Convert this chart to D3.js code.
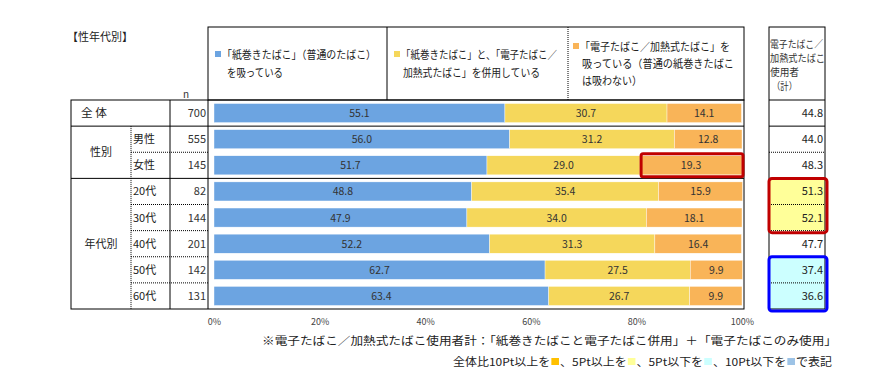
<!DOCTYPE html>
<html>
<head>
<meta charset="utf-8">
<script src="https://cdn.jsdelivr.net/npm/d3@7"></script>
<style>
  body { margin: 0; background: #fff; }
  text { font-family: "Noto Sans CJK JP", sans-serif; }
</style>
</head>
<body>
<div id="chart"></div>
<script>
// Rows
const groups = ['全 体', '性別', '性別', '年代別', '年代別', '年代別', '年代別', '年代別'];
const subLabels = ['', '男性', '女性', '20代', '30代', '40代', '50代', '60代'];
const nValues = [700, 555, 145, 82, 144, 201, 142, 131];

// Series (%)
const cigOnly = [55.1, 56.0, 51.7, 48.8, 47.9, 52.2, 62.7, 63.4];
const dualUse = [30.7, 31.2, 29.0, 35.4, 34.0, 31.3, 27.5, 26.7];
const ecigOnly = [14.1, 12.8, 19.3, 15.9, 18.1, 16.4, 9.9, 9.9];
const ecigTotal = [44.8, 44.0, 48.3, 51.3, 52.1, 47.7, 37.4, 36.6];

const seriesNames = [
  ['「紙巻きたばこ」（普通のたばこ）', 'を吸っている'],
  ['「紙巻きたばこ」と、「電子たばこ／', '加熱式たばこ」を併用している'],
  ['「電子たばこ／加熱式たばこ」を', '吸っている（普通の紙巻きたばこ', 'は吸わない）']
];
const colors = ['#6CA4E1', '#F5D75B', '#F9B458'];
const xTicks = [0, 20, 40, 60, 80, 100];

const W = 892, H = 385;
const svg = d3.select('#chart').append('svg')
  .attr('width', W)
  .attr('height', H);

// squeeze a text element to a given width (the original font is narrower)
function fit(sel, w) {
  return sel.attr('textLength', w).attr('lengthAdjust', 'spacingAndGlyphs');
}

const x = d3.scaleLinear().domain([0, 100]).range([214, 742]);
const y = d3.scaleBand()
  .domain(d3.range(nValues.length))
  .range([100, 309])
  .paddingInner(0.27)
  .paddingOuter(0.135);
const rowStep = y.step();
const rowTop = i => 100 + i * rowStep;

const stacked = d3.stack().keys([0, 1, 2])(
  d3.range(nValues.length).map(i => [cigOnly[i], dualUse[i], ecigOnly[i]])
);

// Title
fit(svg.append('text')
  .attr('x', 67).attr('y', 41)
  .attr('font-size', 11)
  .attr('fill', '#222')
  .text('【性年代別】'), 66);

svg.append('text')
  .attr('x', 186).attr('y', 98)
  .attr('font-size', 10)
  .attr('text-anchor', 'middle')
  .attr('fill', '#333')
  .text('n');

// Header box with legend
const hdr = svg.append('g');
hdr.append('rect')
  .attr('x', 208).attr('y', 27)
  .attr('width', 536).attr('height', 73)
  .attr('fill', 'none').attr('stroke', '#000');
hdr.append('line')
  .attr('x1', 387).attr('x2', 387).attr('y1', 27).attr('y2', 100)
  .attr('stroke', '#000');
hdr.append('line')
  .attr('x1', 568).attr('x2', 568).attr('y1', 27).attr('y2', 100)
  .attr('stroke', '#000').attr('stroke-dasharray', '1,1');

const legendPos = [
  {x: 215, y: 59, dy: 18, w: [154, 56]},
  {x: 394, y: 59, dy: 18, w: [156, 137]},
  {x: 573, y: 51, dy: 17, w: [150, 152, 60]}
];
seriesNames.forEach((lines, k) => {
  const p = legendPos[k];
  hdr.append('rect')
    .attr('x', p.x).attr('y', p.y - 8)
    .attr('width', 6).attr('height', 6)
    .attr('fill', colors[k]);
  lines.forEach((t, j) => {
    fit(hdr.append('text')
      .attr('x', p.x + 7 + (j > 0 ? (k === 0 ? 5 : 2) : 0))
      .attr('y', p.y + j * p.dy)
      .attr('font-size', 11)
      .attr('fill', '#222')
      .text(t), p.w[j]);
  });
});

// Left table
const tbl = svg.append('g').attr('stroke', '#000').attr('fill', 'none');
tbl.append('rect')
  .attr('x', 71).attr('y', 100)
  .attr('width', 673).attr('height', 209);
// group separators
[1, 3].forEach(i => {
  tbl.append('line')
    .attr('x1', 71).attr('x2', 744)
    .attr('y1', rowTop(i)).attr('y2', rowTop(i));
});
// sub-row dotted lines
[2, 4, 5, 6, 7].forEach(i => {
  tbl.append('line')
    .attr('x1', 131).attr('x2', 208)
    .attr('y1', rowTop(i)).attr('y2', rowTop(i))
    .attr('stroke-dasharray', '1,1');
});
tbl.append('line')
  .attr('x1', 131).attr('x2', 131)
  .attr('y1', rowTop(1)).attr('y2', 309)
  .attr('stroke-dasharray', '1,1');
tbl.append('line')
  .attr('x1', 170).attr('x2', 170).attr('y1', 100).attr('y2', 309);
tbl.append('line')
  .attr('x1', 208).attr('x2', 208).attr('y1', 100).attr('y2', 309);

// Row labels
fit(svg.append('text')
  .attr('x', 81).attr('y', rowTop(0) + rowStep / 2 + 4)
  .attr('font-size', 11)
  .attr('fill', '#222')
  .text(groups[0]), 26);
const groupSpans = [['性別', 1, 3], ['年代別', 3, 8]];
groupSpans.forEach(([g, a, b]) => {
  svg.append('text')
    .attr('x', 101)
    .attr('y', (rowTop(a) + rowTop(b)) / 2 + 4)
    .attr('text-anchor', 'middle')
    .attr('font-size', 11)
    .attr('fill', '#222')
    .text(g);
});
subLabels.forEach((s, i) => {
  if (!s) return;
  svg.append('text')
    .attr('x', 133).attr('y', rowTop(i) + rowStep / 2 + 4)
    .attr('font-size', 11)
    .attr('fill', '#222')
    .text(s);
});
nValues.forEach((n, i) => {
  svg.append('text')
    .attr('x', 206).attr('y', rowTop(i) + rowStep / 2 + 4)
    .attr('text-anchor', 'end')
    .attr('font-size', 11)
    .attr('fill', '#333')
    .text(n);
});

// Bars
const bars = svg.append('g');
stacked.forEach((layer, k) => {
  bars.selectAll(null)
    .data(layer)
    .enter()
    .append('rect')
    .attr('x', d => x(d[0]))
    .attr('y', (d, i) => y(i))
    .attr('width', d => x(d[1]) - x(d[0]))
    .attr('height', y.bandwidth())
    .attr('fill', colors[k])
    .attr('stroke', '#fff')
    .attr('stroke-width', 0.4);
  bars.selectAll(null)
    .data(layer)
    .enter()
    .append('text')
    .attr('x', d => (x(d[0]) + x(d[1])) / 2)
    .attr('y', (d, i) => y(i) + y.bandwidth() / 2 + 4)
    .attr('text-anchor', 'middle')
    .attr('font-size', 10.5)
    .attr('fill', '#333')
    .text(d => (d[1] - d[0]).toFixed(1));
});

// Highlight on 女性 e-cig only
const hl = 2;
svg.append('rect')
  .attr('x', x(cigOnly[hl] + dualUse[hl]) + 1)
  .attr('y', y(hl) - 2)
  .attr('width', x(100) - x(cigOnly[hl] + dualUse[hl]))
  .attr('height', y.bandwidth() + 4)
  .attr('rx', 2)
  .attr('fill', 'none')
  .attr('stroke', '#C00000')
  .attr('stroke-width', 3);

// x axis
const xAxis = d3.axisBottom(x)
  .tickValues(xTicks)
  .tickSize(0)
  .tickFormat(d => d + '%');
svg.append('g')
  .attr('transform', 'translate(0,316)')
  .call(xAxis)
  .call(g => g.select('.domain').remove())
  .call(g => g.selectAll('text')
    .attr('font-size', 9)
    .attr('fill', '#444')
    .attr('font-family', '"Noto Sans CJK JP", sans-serif'));

// Right table: e-cig total
const rt = svg.append('g');
const rx0 = 769, rx1 = 825;
// highlight fills
rt.append('rect')
  .attr('x', rx0).attr('y', rowTop(3))
  .attr('width', rx1 - rx0).attr('height', rowStep * 2)
  .attr('fill', '#FFFF99');
rt.append('rect')
  .attr('x', rx0).attr('y', rowTop(6))
  .attr('width', rx1 - rx0).attr('height', rowStep * 2)
  .attr('fill', '#CCFFFF');
rt.append('rect')
  .attr('x', rx0).attr('y', 27)
  .attr('width', rx1 - rx0).attr('height', 282)
  .attr('fill', 'none').attr('stroke', '#000');
[0, 1, 3].forEach(i => {
  rt.append('line')
    .attr('x1', rx0).attr('x2', rx1)
    .attr('y1', rowTop(i)).attr('y2', rowTop(i))
    .attr('stroke', '#000');
});
[2, 4, 5, 6, 7].forEach(i => {
  rt.append('line')
    .attr('x1', rx0).attr('x2', rx1)
    .attr('y1', rowTop(i)).attr('y2', rowTop(i))
    .attr('stroke', '#000').attr('stroke-dasharray', '1,1');
});
const rtHead = [['電子たばこ／', 770, 53], ['加熱式たばこ', 770, 55], ['使用者', 770, 29], ['（計）', 772, 25]];
rtHead.forEach(([t, tx, tw], j) => {
  fit(rt.append('text')
    .attr('x', tx)
    .attr('y', 48 + j * 14)
    .attr('font-size', 10)
    .attr('fill', '#333')
    .text(t), tw);
});
ecigTotal.forEach((v, i) => {
  rt.append('text')
    .attr('x', 823).attr('y', rowTop(i) + rowStep / 2 + 4)
    .attr('text-anchor', 'end')
    .attr('font-size', 11)
    .attr('fill', '#222')
    .text(v.toFixed(1));
});
rt.append('rect')
  .attr('x', rx0).attr('y', rowTop(3))
  .attr('width', rx1 - rx0 + 2).attr('height', rowStep * 2 + 2)
  .attr('rx', 3)
  .attr('fill', 'none').attr('stroke', '#C00000').attr('stroke-width', 3);
rt.append('rect')
  .attr('x', rx0).attr('y', rowTop(6))
  .attr('width', rx1 - rx0 + 2).attr('height', rowStep * 2 + 2)
  .attr('rx', 3)
  .attr('fill', 'none').attr('stroke', '#0000FF').attr('stroke-width', 3);

// Footnotes
fit(svg.append('text')
  .attr('x', 262).attr('y', 345)
  .attr('font-size', 11)
  .attr('fill', '#222')
  .text('※電子たばこ／加熱式たばこ使用者計：「紙巻きたばこと電子たばこ併用」＋「電子たばこのみ使用」'), 575);

const note2 = [
  {t: '全体比10Pt以上を', c: '#FFC000'},
  {t: '、5Pt以上を', c: '#FFFF99'},
  {t: '、5Pt以下を', c: '#CCFFFF'},
  {t: '、10Pt以下を', c: '#9DC3E6'},
  {t: 'で表記', c: null}
];
const n2 = svg.append('g');
let cx = 0;
note2.forEach(p => {
  const t = n2.append('text')
    .attr('x', cx).attr('y', 366)
    .attr('font-size', 11)
    .attr('fill', '#222')
    .text(p.t);
  cx += t.node().getComputedTextLength();
  if (p.c) {
    n2.append('rect')
      .attr('x', cx + 1).attr('y', 358)
      .attr('width', 7).attr('height', 7)
      .attr('fill', p.c);
    cx += 9;
  }
});
const sx = 379 / cx;
n2.attr('transform', `translate(453,0) scale(${sx},1)`);
</script>
</body>
</html>
